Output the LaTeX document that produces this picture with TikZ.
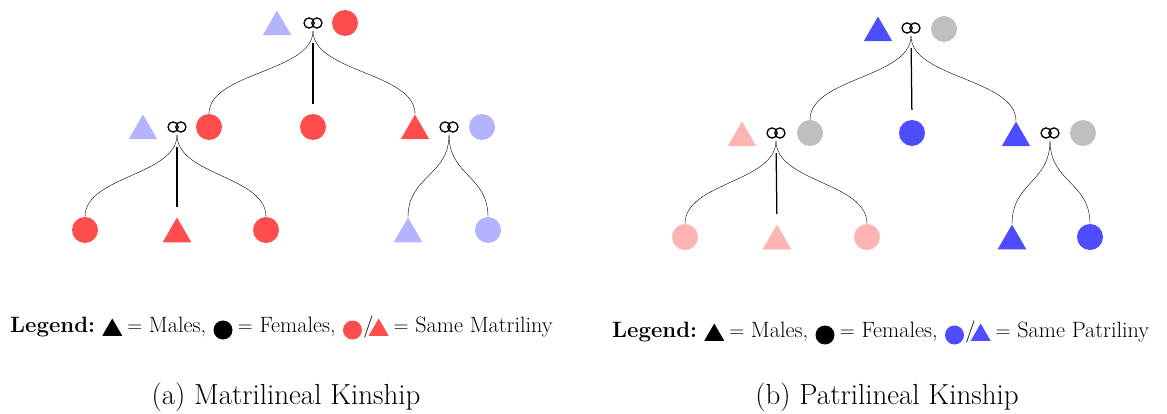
\documentclass[tikz,border=0pt]{standalone}
\usepackage{fontspec}
\usetikzlibrary{shapes.geometric,positioning,calc}
\definecolor{mred}{RGB}{255,77,77}
\definecolor{lblue}{RGB}{179,179,255}
\definecolor{mblue}{RGB}{77,77,255}
\definecolor{mgray}{RGB}{191,191,191}
\definecolor{mpink}{RGB}{255,179,179}
\tikzset{
  fem/.style={circle, fill=#1, minimum size=26pt, inner sep=0pt},
  mal/.style={regular polygon, regular polygon sides=3, fill=#1, minimum size=33pt, inner sep=0pt},
  rings/.style={minimum width=26pt, minimum height=15pt, inner sep=0pt,
    path picture={\draw[line width=1.3pt] ([xshift=-3.9pt]path picture bounding box.center) circle (5.1pt)
       ([xshift=3.9pt]path picture bounding box.center) circle (5.1pt);}},
  link/.style={line width=1.25pt, black, shorten <=12.5pt, shorten >=10pt},
  brace/.style={link, to path={.. controls ($(\tikztostart)!0.5!(\tikztostart|-\tikztotarget)$)
     and ($(\tikztotarget)!0.5!(\tikztotarget|-\tikztostart)$) .. (\tikztotarget)}},
  lgtext/.style={inner sep=0pt, text height=1.5ex, text depth=.25ex, font=\fontsize{22.2}{27}\selectfont},
  lgtri/.style={regular polygon, regular polygon sides=3, fill=#1, minimum size=23pt, inner sep=0pt},
  lgcirc/.style={circle, fill=#1, minimum size=19pt, inner sep=0pt},
  capt/.style={font=\fontsize{29}{33}\selectfont, inner sep=0pt},
}
\begin{document}
\begin{tikzpicture}[x=1pt,y=-1pt]
\useasboundingbox (0,0) rectangle (1167,414);
% ---------- (a) Matrilineal ----------
\node[mal=lblue] (aM0) at (277,27) {};
\node[rings] (aR0) at (313,23) {};
\node[fem=mred] (aF0) at (345,23) {};
\node[mal=lblue] (aM1) at (143,131) {};
\node[rings] (aR1) at (177,127) {};
\node[fem=mred] (aF1) at (209,127) {};
\node[fem=mred] (aF2) at (313,127) {};
\node[mal=mred] (aM2) at (415,131) {};
\node[rings] (aR2) at (449,127) {};
\node[fem=lblue] (aF3) at (482,127) {};
\node[fem=mred] (aC1) at (85,230) {};
\node[mal=mred] (aC2) at (177,234) {};
\node[fem=mred] (aC3) at (266,230) {};
\node[mal=lblue] (aC4) at (408,234) {};
\node[fem=lblue] (aC5) at (488,230) {};
\draw (aR0.south) to[brace] (aF1.north);
\draw[link] (aR0.south) -- (aF2.north);
\draw (aR0.south) to[brace] (aM2.north);
\draw (aR1.south) to[brace] (aC1.north);
\draw[link] (aR1.south) -- (aC2.north);
\draw (aR1.south) to[brace] (aC3.north);
\draw (aR2.south) to[brace] (aC4.north);
\draw (aR2.south) to[brace] (aC5.north);
% legend (a)
\node[lgtext, anchor=west] (aL0) at (10,330) {\textbf{Legend:}};
\node[lgtri=black, right=10pt of aL0] (aL1) {};
\node[lgtext, right=8pt of aL1] (aL2) {$=$ Males,};
\node[lgcirc=black, right=7pt of aL2] (aL3) {};
\node[lgtext, right=5pt of aL3] (aL4) {$=$ Females,};
\node[lgcirc=mred, right=7pt of aL4] (aL5) {};
\node[lgtext, right=1pt of aL5] (aL6) {/};
\node[lgtri=mred, right=-2pt of aL6] (aL7) {};
\node[lgtext, right=8pt of aL7] (aL8) {$=$ Same Matriliny};
\node[capt] (aCap) at (286,397) {(a) Matrilineal Kinship};
% ---------- (b) Patrilineal ----------
\node[mal=mblue] (bM0) at (878,33) {};
\node[rings] (bR0) at (911,28) {};
\node[fem=mgray] (bF0) at (944,29) {};
\node[mal=mpink] (bM1) at (742,138) {};
\node[rings] (bR1) at (776,133) {};
\node[fem=mgray] (bF1) at (810,133) {};
\node[fem=mblue] (bF2) at (912,133) {};
\node[mal=mblue] (bM2) at (1016,138) {};
\node[rings] (bR2) at (1050,133) {};
\node[fem=mgray] (bF3) at (1083,133) {};
\node[fem=mpink] (bC1) at (685,237) {};
\node[mal=mpink] (bC2) at (777,241) {};
\node[fem=mpink] (bC3) at (867,237) {};
\node[mal=mblue] (bC4) at (1012,241) {};
\node[fem=mblue] (bC5) at (1090,237) {};
\draw (bR0.south) to[brace] (bF1.north);
\draw[link] (bR0.south) -- (bF2.north);
\draw (bR0.south) to[brace] (bM2.north);
\draw (bR1.south) to[brace] (bC1.north);
\draw[link] (bR1.south) -- (bC2.north);
\draw (bR1.south) to[brace] (bC3.north);
\draw (bR2.south) to[brace] (bC4.north);
\draw (bR2.south) to[brace] (bC5.north);
% legend (b)
\node[lgtext, anchor=west] (bL0) at (612,335) {\textbf{Legend:}};
\node[lgtri=black, right=10pt of bL0] (bL1) {};
\node[lgtext, right=8pt of bL1] (bL2) {$=$ Males,};
\node[lgcirc=black, right=7pt of bL2] (bL3) {};
\node[lgtext, right=5pt of bL3] (bL4) {$=$ Females,};
\node[lgcirc=mblue, right=7pt of bL4] (bL5) {};
\node[lgtext, right=1pt of bL5] (bL6) {/};
\node[lgtri=mblue, right=-2pt of bL6] (bL7) {};
\node[lgtext, right=8pt of bL7] (bL8) {$=$ Same Patriliny};
\node[capt] (bCap) at (887,397) {(b) Patrilineal Kinship};
\end{tikzpicture}
\end{document}
